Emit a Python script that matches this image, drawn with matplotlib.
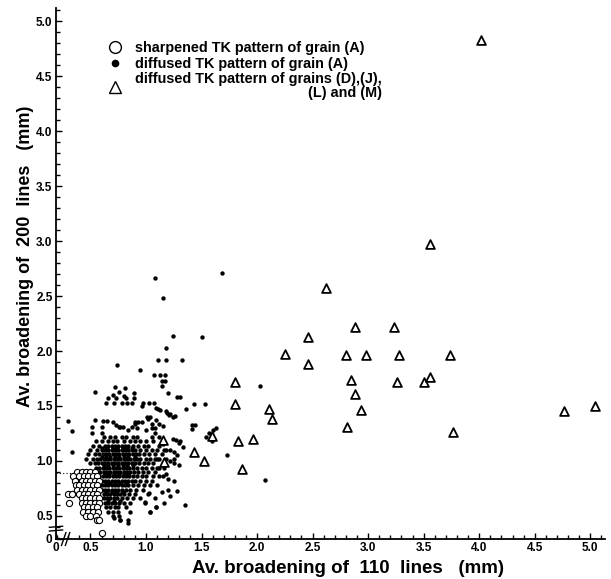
import matplotlib
matplotlib.use('Agg')
import matplotlib.pyplot as plt
from matplotlib.lines import Line2D
from matplotlib.ticker import MultipleLocator

plt.rcParams['font.family'] = ['Liberation Sans', 'DejaVu Sans']
plt.rcParams['font.weight'] = 'bold'

# diffused TK pattern of grain (A) -- dense part, read row by row
dense_y = [1.22, 1.18, 1.14, 1.10, 1.06, 1.02, 0.98, 0.94, 0.90, 0.86,
           0.82, 0.78, 0.74, 0.70, 0.66, 0.62, 0.58, 0.54, 0.50, 0.46,
           1.12, 1.04, 0.96, 0.88, 0.80, 0.72, 0.64]
dense_x = [
    [0.62, 0.68, 0.72, 0.78, 0.82, 0.88, 0.92],
    [0.55, 0.60, 0.66, 0.70, 0.74, 0.80, 0.86, 0.90, 0.95, 1.00, 1.06],
    [0.52, 0.58, 0.63, 0.66, 0.69, 0.72, 0.75, 0.78, 0.81, 0.84, 0.88, 0.93, 0.98, 1.02, 1.12],
    [0.50, 0.56, 0.60, 0.63, 0.66, 0.69, 0.72, 0.75, 0.78, 0.81, 0.84, 0.87, 0.90, 0.95, 1.00,
     1.05, 1.10, 1.16, 1.22],
    [0.48, 0.54, 0.58, 0.61, 0.64, 0.67, 0.70, 0.73, 0.76, 0.79, 0.82, 0.85, 0.88, 0.91, 0.94,
     0.98, 1.03, 1.08, 1.14],
    [0.46, 0.52, 0.56, 0.59, 0.62, 0.65, 0.68, 0.71, 0.74, 0.77, 0.80, 0.83, 0.86, 0.89, 0.92,
     0.95, 1.00, 1.04, 1.08, 1.12, 1.18, 1.25],
    [0.50, 0.54, 0.57, 0.60, 0.63, 0.66, 0.69, 0.72, 0.75, 0.78, 0.81, 0.84, 0.87, 0.90, 0.94,
     0.98, 1.02, 1.06],
    [0.55, 0.58, 0.61, 0.64, 0.67, 0.70, 0.73, 0.76, 0.79, 0.82, 0.85, 0.88, 0.92, 0.96, 1.00,
     1.05, 1.10, 1.16],
    [0.56, 0.59, 0.62, 0.65, 0.68, 0.71, 0.74, 0.77, 0.80, 0.83, 0.86, 0.89, 0.93, 0.97, 1.02],
    [0.58, 0.61, 0.64, 0.67, 0.70, 0.73, 0.76, 0.79, 0.82, 0.85, 0.88, 0.92, 0.96, 1.00, 1.06, 1.12],
    [0.60, 0.63, 0.66, 0.69, 0.72, 0.75, 0.78, 0.81, 0.84, 0.87, 0.90, 0.95, 1.00],
    [0.60, 0.63, 0.66, 0.69, 0.72, 0.75, 0.78, 0.81, 0.84, 0.88, 0.93, 0.98, 1.04],
    [0.60, 0.63, 0.66, 0.69, 0.72, 0.75, 0.78, 0.82, 0.86, 0.91, 0.97],
    [0.62, 0.65, 0.68, 0.71, 0.74, 0.77, 0.80, 0.85, 0.90, 1.02],
    [0.62, 0.65, 0.68, 0.71, 0.74, 0.78, 0.83, 0.88, 0.95],
    [0.63, 0.66, 0.69, 0.72, 0.76, 0.80, 0.86, 0.99],
    [0.64, 0.68, 0.72, 0.75, 0.82, 1.09],
    [0.66, 0.70, 0.75, 0.86, 1.04],
    [0.70, 0.76],
    [0.77, 0.84],
    [0.60, 0.65, 0.70, 0.74, 0.79, 0.83, 0.87],
    [0.60, 0.64, 0.68, 0.72, 0.76, 0.80, 0.84, 0.90],
    [0.62, 0.66, 0.70, 0.75, 0.79, 0.83, 0.88],
    [0.63, 0.67, 0.71, 0.76, 0.80, 0.84],
    [0.64, 0.68, 0.72, 0.77, 0.82],
    [0.64, 0.69, 0.73, 0.79],
    [0.66, 0.71, 0.77],
]

# diffused TK pattern of grain (A) -- scattered points
dot_x = [1.68, 1.08, 1.15, 1.24, 1.50, 1.18, 1.11, 1.18, 1.32, 0.74, 0.95, 1.07, 1.13, 1.17,
         1.14, 1.17, 1.14, 1.20, 1.28, 1.31, 2.03, 1.43, 1.53, 1.36, 1.41, 1.44, 1.41, 1.73,
         2.07, 1.28, 1.35,
         0.54, 0.72, 0.81, 0.70, 0.76, 0.80, 0.89, 0.66, 0.73, 0.82, 0.89, 0.64, 0.71, 0.78,
         0.83, 0.87, 0.97, 1.03, 1.07, 0.96, 1.09, 1.11, 1.13, 1.19, 1.21, 1.24, 0.54, 0.61,
         0.65, 0.77, 0.79, 0.90, 0.92, 0.93, 1.01, 1.04, 1.09, 1.12, 1.15, 0.30, 0.33, 0.33,
         0.51, 0.51, 0.60, 0.60, 0.70, 0.73, 0.76, 0.84, 0.87, 0.90, 0.96, 1.05, 1.08,
         1.02, 1.05, 1.08, 1.12, 1.05, 1.00, 1.15, 1.18, 1.10, 1.15, 1.12, 1.08, 1.18, 1.05,
         1.10, 1.20, 1.14, 1.08, 1.22, 1.16, 1.54, 1.57, 1.60, 1.63, 1.59, 1.24, 1.27, 1.31,
         1.33, 1.18, 1.22, 1.26, 1.30, 1.25, 1.28, 1.22, 1.25, 1.30, 1.15, 1.20, 1.25,
         1.04, 1.09, 0.84, 0.71, 0.77, 0.99, 1.03]
dot_y = [2.71, 2.66, 2.48, 2.14, 2.13, 2.03, 1.92, 1.92, 1.92, 1.87, 1.83, 1.78, 1.78, 1.78,
         1.73, 1.73, 1.68, 1.62, 1.58, 1.58, 1.68, 1.52, 1.52, 1.47, 1.33, 1.33, 1.29, 1.05,
         0.83, 0.73, 0.60,
         1.63, 1.67, 1.66, 1.60, 1.63, 1.59, 1.62, 1.57, 1.57, 1.57, 1.57, 1.53, 1.53, 1.53,
         1.53, 1.53, 1.53, 1.53, 1.53, 1.50, 1.48, 1.47, 1.46, 1.44, 1.42, 1.40, 1.37, 1.36,
         1.36, 1.31, 1.31, 1.34, 1.30, 1.35, 1.40, 1.40, 1.37, 1.34, 1.32, 1.36, 1.27, 1.08,
         1.31, 1.25, 1.31, 1.25, 1.35, 1.33, 1.31, 1.28, 1.31, 1.35, 1.35, 1.34, 1.30,
         1.38, 1.30, 1.25, 1.22, 1.22, 1.28, 1.15, 1.10, 1.02, 0.98, 0.94, 0.90, 0.88, 0.82,
         0.78, 0.74, 0.72, 0.66, 0.68, 0.62, 1.22, 1.25, 1.28, 1.30, 1.18, 1.20, 1.19, 1.18,
         1.13, 1.45, 1.43, 1.41, 1.16, 1.08, 1.05, 1.00, 0.98, 0.96, 0.86, 0.84, 0.82,
         0.54, 0.58, 0.44, 0.48, 0.46, 0.63, 0.71]

# sharpened TK pattern of grain (A)
circ_rows_y = [0.90, 0.86, 0.82, 0.78, 0.74, 0.70, 0.66, 0.62, 0.58, 0.54, 0.50, 0.46, 0.34]
circ_rows_x = [
    [0.38, 0.42, 0.46, 0.50, 0.54],
    [0.34, 0.40, 0.44, 0.48, 0.52, 0.56],
    [0.36, 0.42, 0.46, 0.50, 0.54, 0.58],
    [0.37, 0.40, 0.44, 0.48, 0.52, 0.56],
    [0.38, 0.42, 0.46, 0.50, 0.54, 0.58],
    [0.30, 0.33, 0.40, 0.44, 0.48, 0.52, 0.56],
    [0.42, 0.46, 0.50, 0.54, 0.58],
    [0.31, 0.42, 0.46, 0.50, 0.54, 0.58],
    [0.44, 0.48, 0.52, 0.56],
    [0.43, 0.48, 0.52, 0.57],
    [0.46, 0.50, 0.55],
    [0.56, 0.58],
    [0.60],
]

# diffused TK pattern of grains (D),(J),(L) and (M)
tri_x = [4.02, 3.56, 2.62, 2.88, 3.23, 2.46, 2.25, 2.80, 2.98, 3.28, 3.74, 2.46, 1.80, 2.85,
         3.26, 3.50, 3.56, 2.88, 1.80, 2.11, 2.94, 2.13, 2.81, 3.76, 4.76, 5.04, 1.83, 1.96,
         1.43, 1.52, 1.86, 1.15, 1.16, 1.59]
tri_y = [4.83, 2.97, 2.57, 2.22, 2.22, 2.13, 1.97, 1.96, 1.96, 1.96, 1.96, 1.88, 1.72, 1.74,
         1.72, 1.72, 1.76, 1.61, 1.52, 1.47, 1.46, 1.38, 1.31, 1.26, 1.45, 1.50, 1.18, 1.20,
         1.08, 1.00, 0.93, 1.19, 0.99, 1.23]

x_min, x_max = 0.19, 5.13
y_min, y_max = 0.29, 5.12
tick_vals = [0.5, 1.0, 1.5, 2.0, 2.5, 3.0, 3.5, 4.0, 4.5, 5.0]
ref_level = 0.89
ref_end = 0.35

legend_labels = ['sharpened TK pattern of grain (A)',
                 'diffused TK pattern of grain (A)',
                 'diffused TK pattern of grains (D),(J),\n(L) and (M)']

fig = plt.figure(figsize=(6.11, 5.79), dpi=100)
ax = fig.add_axes([0.0917, 0.0691, 0.898, 0.917])

dx = [x for row in dense_x for x in row]
dy = [y for y, row in zip(dense_y, dense_x) for _ in row]
ax.scatter(dx + dot_x, dy + dot_y, s=10, c='black', linewidths=0, zorder=2)

cx = [x for row in circ_rows_x for x in row]
cy = [y for y, row in zip(circ_rows_y, circ_rows_x) for _ in row]
ax.scatter(cx, cy, s=20, facecolors='white', edgecolors='black', linewidths=0.8, zorder=3)

ax.scatter(tri_x, tri_y, marker='^', s=40, facecolors='white', edgecolors='black',
           linewidths=1.3, zorder=4)

ax.plot([x_min, ref_end], [ref_level, ref_level], linestyle=(0, (1, 2)), color='black',
        linewidth=0.8, zorder=1)

ax.set_xlim(x_min, x_max)
ax.set_ylim(y_min, y_max)
ax.spines['top'].set_visible(False)
ax.spines['right'].set_visible(False)
ax.spines['left'].set_linewidth(1.3)
ax.spines['bottom'].set_linewidth(1.3)

ax.set_xticks([x_min] + tick_vals)
ax.set_xticklabels(['0'] + [f'{v:.1f}' for v in tick_vals])
ax.set_yticks([y_min] + tick_vals)
ax.set_yticklabels(['0'] + [f'{v:.1f}' for v in tick_vals])
ax.xaxis.set_minor_locator(MultipleLocator(0.1))
ax.yaxis.set_minor_locator(MultipleLocator(0.1))
ax.tick_params(which='both', direction='in', width=1.0, labelsize=8.5)
ax.tick_params(which='major', length=4)
ax.tick_params(which='minor', length=3)
ax.tick_params(axis='x', pad=2.5)
ax.tick_params(axis='y', pad=2.5)

ax.set_xlabel('Av. broadening of  110  lines   (mm)', fontsize=13.5, fontweight='bold')
ax.set_ylabel('Av. broadening of  200  lines   (mm)', fontsize=13, fontweight='bold')
ax.xaxis.set_label_coords(0.532, -0.04)
ax.yaxis.set_label_coords(-0.041, 0.533)

# axis break marks
for off in (0.0, 0.007):
    ax.plot([0.010 + off, 0.018 + off], [-0.012, 0.012], transform=ax.transAxes,
            color='black', linewidth=1.0, clip_on=False)
    ax.plot([-0.012, 0.012], [0.015 + off, 0.017 + off], transform=ax.transAxes,
            color='black', linewidth=1.0, clip_on=False)

handles = [
    Line2D([], [], linestyle='none', marker='o', markersize=8.5, markerfacecolor='white',
           markeredgecolor='black', markeredgewidth=1.0),
    Line2D([], [], linestyle='none', marker='o', markersize=4.5, markerfacecolor='black',
           markeredgecolor='black'),
    Line2D([], [], linestyle='none', marker='^', markersize=8.5, markerfacecolor='white',
           markeredgecolor='black', markeredgewidth=1.0),
]
leg = ax.legend(handles, legend_labels, loc='upper left', bbox_to_anchor=(0.095, 0.937),
                frameon=False, fontsize=10.4, handlelength=1.0, handletextpad=0.85,
                borderpad=0, borderaxespad=0, labelspacing=0.1)
for t in leg.get_texts():
    t.set_fontweight('bold')
    t.set_multialignment('right')
    t.set_linespacing(1.0)

fig.savefig('out.png', dpi=100, facecolor='white')
